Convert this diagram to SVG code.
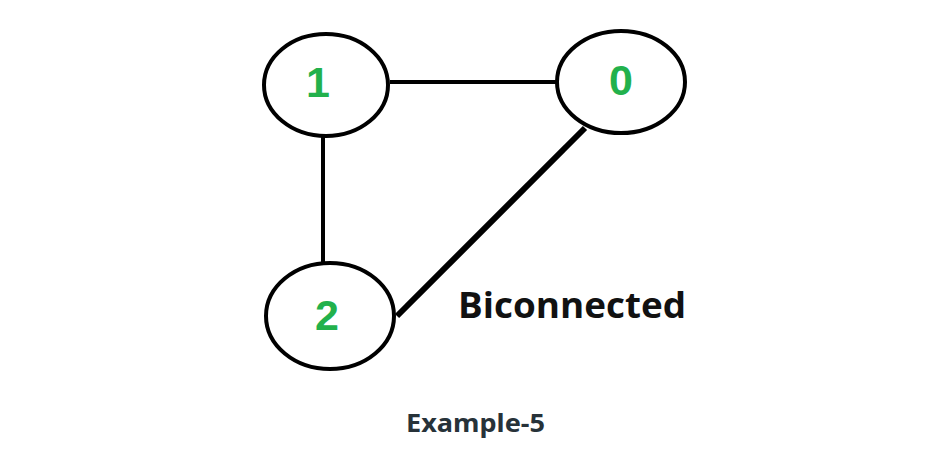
<svg xmlns="http://www.w3.org/2000/svg" width="941" height="469" viewBox="0 0 941 469">
<style>
.node ellipse{fill:#fff;stroke:#000;stroke-width:4}
.num{font-family:"Liberation Sans",Arial,sans-serif;font-weight:bold;font-size:43px;fill:#22b14c;text-anchor:middle}
.edges line{stroke:#000;stroke-width:4}
</style>
<rect width="941" height="469" fill="#fff"/>
<g id="edges" class="edges">
<line x1="390" y1="82" x2="557" y2="82"/>
<line x1="323" y1="137" x2="323" y2="263"/>
<line x1="585" y1="128" x2="397" y2="316" style="stroke-width:6"/>
</g>
<g id="node1" class="node"><ellipse cx="326" cy="85" rx="62" ry="51"/><text class="num" x="318" y="97">1</text></g>
<g id="node0" class="node"><ellipse cx="621" cy="82" rx="64" ry="51"/><text class="num" x="621" y="95">0</text></g>
<g id="node2" class="node"><ellipse cx="330" cy="316" rx="64" ry="53"/><text class="num" x="327" y="330">2</text></g>
<text x="458" y="318" textLength="228" lengthAdjust="spacingAndGlyphs" font-family="'Open Sans','Liberation Sans',sans-serif" font-weight="bold" font-size="35" fill="#111">Biconnected</text>
<text x="406" y="432" textLength="139" lengthAdjust="spacingAndGlyphs" font-family="'Noto Sans','Open Sans',sans-serif" font-weight="bold" font-size="25" fill="#273239">Example-5</text>
</svg>
